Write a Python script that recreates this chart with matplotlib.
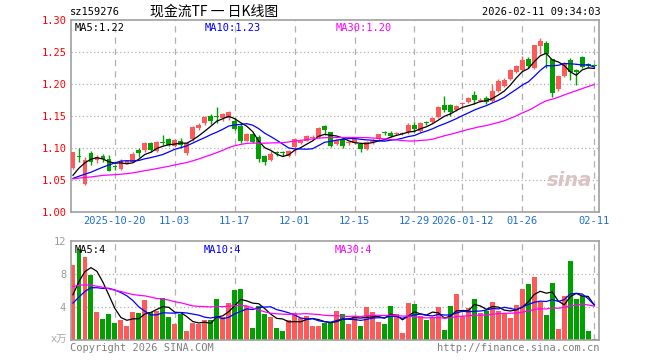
import numpy as np
import pandas as pd
import matplotlib
matplotlib.use('Agg')
import matplotlib.pyplot as plt

plt.rcParams['font.family'] = ['DejaVu Sans Mono', 'Noto Sans CJK SC']

# daily K data, 2025-10-09 .. 2026-02-11 (88 trading days)
opens = [1.069, 1.088, 1.045, 1.092, 1.082, 1.088, 1.084, 1.072, 1.068, 1.077,
         1.079, 1.098, 1.097, 1.108, 1.096, 1.110, 1.114, 1.104, 1.112, 1.093,
         1.114, 1.131, 1.139, 1.150, 1.150, 1.147, 1.147, 1.143, 1.135, 1.112,
         1.122, 1.118, 1.088, 1.082, 1.0925, 1.0925, 1.088, 1.1025, 1.109, 1.112,
         1.116, 1.117, 1.135, 1.125, 1.107, 1.114, 1.108, 1.109, 1.107, 1.099,
         1.110, 1.114, 1.1245, 1.1245, 1.122, 1.1228, 1.1255, 1.1357, 1.1275, 1.1405,
         1.141, 1.149, 1.168, 1.168, 1.160, 1.169, 1.173, 1.184, 1.174, 1.179,
         1.174, 1.190, 1.197, 1.209, 1.220, 1.223, 1.239, 1.226, 1.260, 1.265,
         1.239, 1.192, 1.213, 1.238, 1.222, 1.242, 1.231, 1.230]
highs = [1.095, 1.100, 1.087, 1.096, 1.090, 1.091, 1.090, 1.074, 1.083, 1.082,
         1.095, 1.100, 1.110, 1.110, 1.112, 1.121, 1.116, 1.115, 1.116, 1.110,
         1.135, 1.140, 1.150, 1.153, 1.165, 1.155, 1.158, 1.147, 1.139, 1.124,
         1.124, 1.121, 1.090, 1.096, 1.096, 1.096, 1.098, 1.1156, 1.113, 1.121,
         1.120, 1.134, 1.137, 1.126, 1.115, 1.117, 1.112, 1.116, 1.108, 1.111,
         1.114, 1.123, 1.127, 1.127, 1.126, 1.126, 1.139, 1.141, 1.141, 1.143,
         1.149, 1.166, 1.182, 1.170, 1.168, 1.173, 1.180, 1.190, 1.178, 1.181,
         1.200, 1.208, 1.210, 1.224, 1.230, 1.244, 1.242, 1.262, 1.272, 1.267,
         1.240, 1.214, 1.235, 1.241, 1.224, 1.244, 1.234, 1.232]
lows = [1.067, 1.078, 1.043, 1.074, 1.077, 1.078, 1.064, 1.066, 1.066, 1.075,
        1.078, 1.087, 1.095, 1.095, 1.094, 1.105, 1.103, 1.102, 1.100, 1.090,
        1.112, 1.129, 1.137, 1.138, 1.139, 1.143, 1.145, 1.129, 1.109, 1.111,
        1.108, 1.079, 1.074, 1.080, 1.088, 1.088, 1.087, 1.092, 1.107, 1.111,
        1.113, 1.116, 1.121, 1.102, 1.105, 1.101, 1.105, 1.107, 1.094, 1.098,
        1.107, 1.113, 1.121, 1.117, 1.120, 1.121, 1.123, 1.126, 1.126, 1.137,
        1.139, 1.147, 1.156, 1.150, 1.158, 1.166, 1.171, 1.170, 1.172, 1.170,
        1.172, 1.188, 1.195, 1.207, 1.218, 1.221, 1.225, 1.224, 1.247, 1.226,
        1.180, 1.190, 1.211, 1.207, 1.199, 1.225, 1.226, 1.226]
closes = [1.094, 1.086, 1.082, 1.078, 1.087, 1.083, 1.065, 1.071, 1.080, 1.080,
          1.091, 1.093, 1.108, 1.097, 1.110, 1.108, 1.105, 1.113, 1.105, 1.109,
          1.134, 1.137, 1.149, 1.143, 1.149, 1.153, 1.156, 1.130, 1.112, 1.122,
          1.110, 1.083, 1.078, 1.091, 1.092, 1.092, 1.096, 1.114, 1.111, 1.119,
          1.118, 1.132, 1.129, 1.104, 1.113, 1.103, 1.110, 1.114, 1.099, 1.110,
          1.112, 1.122, 1.124, 1.119, 1.124, 1.1238, 1.136, 1.130, 1.139, 1.1395,
          1.147, 1.165, 1.160, 1.1575, 1.166, 1.171, 1.178, 1.175, 1.1755, 1.172,
          1.189, 1.205, 1.206, 1.222, 1.228, 1.238, 1.228, 1.261, 1.268, 1.247,
          1.186, 1.213, 1.233, 1.219, 1.220, 1.2275, 1.229, 1.228]
# volume, 万手
volumes = [9.13, 11.07, 10.1, 7.92, 3.43, 2.59, 3.19, 2.10, 2.46, 1.76,
           3.43, 3.31, 4.93, 3.43, 3.56, 5.13, 2.85, 1.98, 3.23, 1.13,
           2.14, 2.00, 2.46, 2.46, 5.01, 2.85, 4.53, 6.10, 6.22, 4.10,
           1.50, 4.20, 3.19, 2.85, 1.52, 1.13, 2.46, 3.31, 2.75, 2.90,
           1.76, 1.76, 2.12, 2.10, 3.56, 3.19, 1.98, 2.95, 1.74, 4.04,
           3.43, 2.18, 1.98, 4.16, 3.19, 0.89, 4.53, 4.40, 2.95, 2.46,
           2.71, 4.04, 1.25, 4.16, 5.62, 2.95, 3.92, 5.01, 3.27, 3.56,
           4.65, 3.56, 3.19, 2.75, 4.24, 6.22, 6.83, 7.68, 4.65, 3.07,
           6.95, 1.37, 5.37, 9.62, 5.01, 5.37, 1.13, 0.16]

# earlier sessions (not drawn), only needed for the moving averages
hist_close = [1.048, 1.052, 1.055, 1.050, 1.046, 1.049, 1.054, 1.058, 1.056, 1.051,
              1.047, 1.050, 1.053, 1.057, 1.055, 1.052, 1.048, 1.051, 1.054, 1.050,
              1.052, 1.050, 1.048, 1.046, 1.045, 1.030, 1.040, 1.050, 1.075]
hist_vol = [6.8, 8.2, 9.5, 7.1, 6.3, 8.8, 7.4, 6.9, 7.7, 8.4,
            6.2, 7.0, 7.9, 8.6, 7.3, 6.5, 7.8, 7.2, 6.6, 7.8,
            3.8, 3.2, 3.6, 3.4, 3.5, 3.0, 4.2, 5.5, 5.7]

tick_idx = [7, 17, 27, 37, 47, 57, 65, 75, 87]
tick_labels = ['2025-10-20', '11-03', '11-17', '12-01', '12-15', '12-29',
               '2026-01-12', '01-26', '02-11']
price_ticks = [1.00, 1.05, 1.10, 1.15, 1.20, 1.25, 1.30]
vol_ticks = [4, 8, 12]

RED = '#ff5a5a'
GREEN = '#00a000'
MA_COLORS = {5: 'black', 10: '#0000ff', 30: '#ff00ff'}
BORDER = '#a0a0a0'
GRID = '#b0b0b0'

n = len(closes)
x = np.arange(n)
o = np.array(opens)
c = np.array(closes)
up = c >= o
colors = [RED if u else GREEN for u in up]

all_close = pd.Series(hist_close + closes)
all_vol = pd.Series(hist_vol + volumes)
ma_p = {k: all_close.rolling(k).mean().values[-n:] for k in (5, 10, 30)}
ma_v = {k: all_vol.rolling(k).mean().values[-n:] for k in (5, 10, 30)}

W, H = 660, 360
fig = plt.figure(figsize=(W / 100, H / 100), dpi=100)
fig.patch.set_facecolor('white')


def px(xp, yp):
    # pixel position -> figure fraction
    return xp / W, 1 - yp / H


ax = fig.add_axes([71 / W, 1 - 212.3 / H, 528 / W, 192 / H])
axv = fig.add_axes([71 / W, 1 - 340.3 / H, 528 / W, 99.3 / H])

for a in (ax, axv):
    a.set_xlim(-0.33, 87.8)
    for s in a.spines.values():
        s.set_color(BORDER)
        s.set_linewidth(1.2)
    a.set_xticks(tick_idx)
    a.tick_params(length=0)
    for t in tick_idx:
        a.axvline(t, color=GRID, lw=0.9, ls=(0, (5, 4)), zorder=0)

# ---- price panel ----
ax.set_ylim(1.0, 1.30)
for yv in price_ticks[1:-1]:
    ax.axhline(yv, color=GRID, lw=0.9, ls=(0, (1, 2)), zorder=0)
ax.set_yticks(price_ticks)
ax.set_yticklabels(['%.2f' % v for v in price_ticks], color='red', fontsize=7.5)
ax.set_xticklabels(tick_labels, color='#1f6fd0', fontsize=7.5)
ax.tick_params(axis='both', pad=3)

body_lo = np.minimum(o, c)
body_h = np.maximum(np.abs(c - o), 0.0016)
ax.vlines(x, lows, highs, colors=colors, lw=1.0, zorder=2)
ax.bar(x, body_h, bottom=body_lo, width=0.8, color=colors, lw=0, zorder=3)
for k in (5, 10, 30):
    ax.plot(x, ma_p[k], color=MA_COLORS[k], lw=0.9, zorder=4)

fig.text(*px(592, 180), 'sina', fontsize=14, fontweight='bold', style='italic',
         color='#dcc3c3', family='DejaVu Sans', ha='right', va='center')

fig.text(*px(75, 28), 'MA5:%.2f' % ma_p[5][-1], color='black', fontsize=7.5, va='center')
fig.text(*px(205, 28), 'MA10:%.2f' % ma_p[10][-1], color='#0000ff', fontsize=7.5, va='center')
fig.text(*px(336, 28), 'MA30:%.2f' % ma_p[30][-1], color='#ff00ff', fontsize=7.5, va='center')

# ---- volume panel ----
axv.set_ylim(0, 12)
for yv in vol_ticks[:-1]:
    axv.axhline(yv, color=GRID, lw=0.9, ls=(0, (1, 2)), zorder=0)
axv.set_yticks(vol_ticks)
axv.set_yticklabels([str(v) for v in vol_ticks], color='#999999', fontsize=7.5)
axv.set_xticklabels([])
axv.bar(x, volumes, width=0.82, color=colors, lw=0, zorder=2)
for k in (5, 10, 30):
    axv.plot(x, ma_v[k], color=MA_COLORS[k], lw=0.9, zorder=3)

fig.text(*px(75, 250), 'MA5:%d' % round(ma_v[5][-1]), color='black', fontsize=7.5, va='center')
fig.text(*px(204, 250), 'MA10:%d' % round(ma_v[10][-1]), color='#0000ff', fontsize=7.5, va='center')
fig.text(*px(335, 250), 'MA30:%d' % round(ma_v[30][-1]), color='#ff00ff', fontsize=7.5, va='center')
fig.text(*px(67, 340), 'x万', color='#aaaaaa', fontsize=7.5, ha='right', va='center')

# ---- header / footer ----
fig.text(*px(70, 12), 'sz159276', color='black', fontsize=7.5, va='center')
fig.text(*px(150, 12), '现金流TF 一 日K线图', color='black', fontsize=10,
         family=['Noto Sans CJK SC', 'DejaVu Sans'], va='center')
fig.text(*px(601, 12), '2026-02-11 09:34:03', color='black', fontsize=7.5,
         ha='right', va='center')
fig.text(*px(70, 348), 'Copyright 2026 SINA.COM', color='#808080', fontsize=7.5, va='center')
fig.text(*px(599, 348), 'http://finance.sina.com.cn', color='#808080', fontsize=7.5,
         ha='right', va='center')

fig.savefig('out.png', dpi=100, facecolor='white')
